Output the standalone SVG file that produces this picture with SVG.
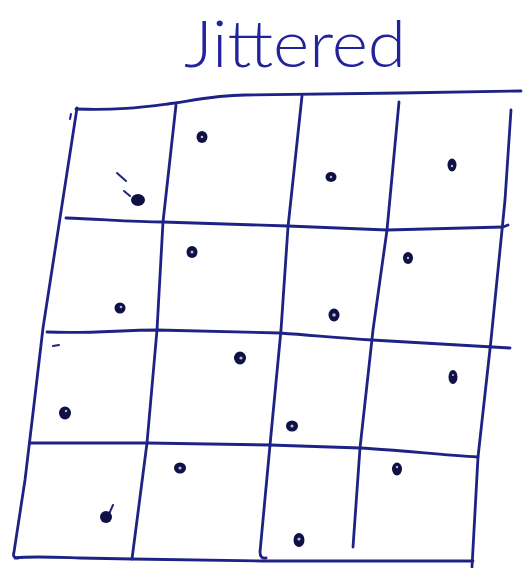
<svg xmlns="http://www.w3.org/2000/svg" width="525" height="568" viewBox="0 0 525 568">
<style>
.ln{fill:none;stroke:#1d2384;stroke-width:2.8;stroke-linecap:round;stroke-linejoin:round}
.dot{fill:#0f1045}
.hole{fill:#ffffff;opacity:0.7}
.mk{fill:none;stroke:#1d2384;stroke-width:2;stroke-linecap:round}
.title{font-family:Lato,"Open Sans","Liberation Sans",sans-serif;font-weight:300;font-size:66px;fill:#22239a}
</style>
<rect width="525" height="568" fill="#ffffff"/>
<text id="title" class="title" x="184" y="67" textLength="222" lengthAdjust="spacingAndGlyphs">Jittered</text>
<g id="grid">
<path class="ln" d="M76,109 C120,111 150,106 175,103 C200,99 220,95 245,95 L400,93 L521,91"/>
<path class="ln" d="M66,218 C100,219 130,222 163,222 L288,226 L387,230 L503,227 L508,225"/>
<path class="ln" d="M47,332 C90,334 120,330 157,330 L280,333 C320,336 340,338 372,340 L510,348"/>
<path class="ln" d="M30,443 L147,443 L270,445 L360,448 C400,450 440,455 478,457"/>
<path class="ln" d="M15,558 C30,556 50,557 80,558 L132,559 L262,561 L473,561"/>
<path class="ln" d="M77,108 L43,328 L33,413 L25,480 L14,552 Q12,558 18,558"/>
<path class="ln" d="M176,105 L163,222 L157,330 L147,443 L132,559"/>
<path class="ln" d="M302,96 L288,227 L281,330 L270,445 L260,552 Q260,559 266,558"/>
<path class="ln" d="M399,102 L387,230 L373,330 L360,448 L353,547"/>
<path class="ln" d="M511,110 L505,200 L502,230 L491,340 L478,457 L472,567"/>
<path class="mk" d="M117,173 L126,181 M124,191 L130,196"/>
<path class="mk" d="M53,346 L59,345"/>
<path class="mk" d="M71,114 L70,119"/>
<path class="mk" d="M109,514 L113,505"/>
</g>
<g id="points">
<ellipse class="dot" cx="138" cy="200" rx="7" ry="6"/>
<ellipse class="dot" cx="202" cy="137" rx="5.5" ry="6"/><circle class="hole" cx="202" cy="137" r="1.3"/>
<ellipse class="dot" cx="331" cy="177" rx="5.5" ry="5"/><circle class="hole" cx="331" cy="177" r="1.2"/>
<ellipse class="dot" cx="452" cy="165" rx="4.5" ry="6.5"/><circle class="hole" cx="452" cy="166" r="1.2"/>
<ellipse class="dot" cx="120" cy="308" rx="5.5" ry="5.5"/><circle class="hole" cx="121" cy="307" r="1.3"/>
<ellipse class="dot" cx="192" cy="252" rx="5.5" ry="6"/><circle class="hole" cx="192" cy="252" r="1.5"/>
<ellipse class="dot" cx="334" cy="315" rx="5.5" ry="6.5"/><circle class="hole" cx="334" cy="315" r="1.8"/>
<ellipse class="dot" cx="408" cy="258" rx="5" ry="6"/><circle class="hole" cx="408" cy="258" r="1.2"/>
<ellipse class="dot" cx="65" cy="413" rx="6" ry="6.5"/><circle class="hole" cx="66" cy="411" r="1.2"/>
<ellipse class="dot" cx="240" cy="358" rx="6" ry="6.5"/><circle class="hole" cx="241" cy="358" r="1.6"/>
<ellipse class="dot" cx="292" cy="426" rx="6" ry="5.5"/><circle class="hole" cx="292" cy="426" r="1.6"/>
<ellipse class="dot" cx="453" cy="377" rx="4.5" ry="7"/><circle class="hole" cx="453" cy="375" r="1.1"/>
<ellipse class="dot" cx="106" cy="517" rx="6" ry="6"/>
<ellipse class="dot" cx="180" cy="468" rx="6" ry="5.5"/><circle class="hole" cx="180" cy="468" r="1.6"/>
<ellipse class="dot" cx="299" cy="540" rx="5.5" ry="7"/><circle class="hole" cx="299" cy="539" r="1.6"/>
<ellipse class="dot" cx="397" cy="469" rx="5" ry="6.5"/><circle class="hole" cx="397" cy="467" r="1.2"/>
</g>
</svg>
